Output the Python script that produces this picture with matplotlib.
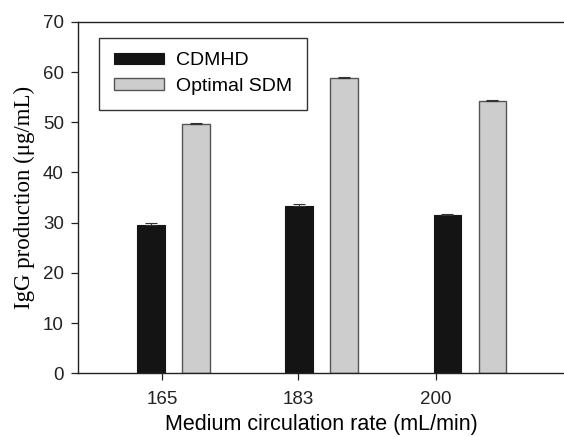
import numpy as np
import matplotlib.pyplot as plt

rates = ["165", "183", "200"]
cdmhd = [29.6, 33.4, 31.5]
cdmhd_err = [0.3, 0.3, 0.2]
sdm = [49.6, 58.8, 54.2]
sdm_err = [0.3, 0.3, 0.2]

# SigmaPlot puts the ticks a bit left of each group centre
tick_shift = [-0.081, -0.162, -0.23]

plt.rcParams['font.family'] = ['Liberation Sans', 'DejaVu Sans']

fig = plt.figure(figsize=(5.64, 4.37), dpi=100)
ax = fig.add_axes([0.138, 0.146, 0.862, 0.804])

x = np.arange(len(rates))
w = 0.189
off = 0.152

ax.bar(x - off, cdmhd, w, color="#141414", edgecolor="#141414", linewidth=0.8,
       label="CDMHD", zorder=2)
ax.bar(x + off, sdm, w, color="#cdcdcd", edgecolor="#555555", linewidth=1.0,
       label="Optimal SDM", zorder=2)
ax.errorbar(x - off, cdmhd, yerr=[np.zeros(3), cdmhd_err], fmt="none",
            ecolor="#333333", elinewidth=0.8, capsize=4, capthick=0.8, zorder=3)
ax.errorbar(x + off, sdm, yerr=[np.zeros(3), sdm_err], fmt="none",
            ecolor="#333333", elinewidth=0.8, capsize=4, capthick=0.8, zorder=3)

ax.set_xlim(-0.649, 2.635)
ax.set_ylim(0, 70)
ax.set_yticks(np.arange(0, 71, 10))
ax.set_xticks(x + np.array(tick_shift))
ax.set_xticklabels(rates)

ax.spines['right'].set_visible(False)
for s in ['left', 'bottom', 'top']:
    ax.spines[s].set_color("#222222")
    ax.spines[s].set_linewidth(1.0)
ax.tick_params(direction="out", length=5, width=0.9, colors="#222222",
               labelsize=13.5, pad=5)
ax.tick_params(axis="x", pad=8)

ax.set_xlabel("Medium circulation rate (mL/min)", fontsize=15.5, labelpad=4)
ax.set_ylabel("IgG production (μg/mL)", fontsize=16.5, family="Liberation Serif",
              labelpad=6)

leg = ax.legend(loc="upper left", bbox_to_anchor=(0.044, 0.955), fontsize=14,
                fancybox=False, framealpha=1, edgecolor="#333333",
                handlelength=2.6, handleheight=0.55, handletextpad=0.6,
                borderpad=0.75, labelspacing=0.45, borderaxespad=0)
leg.get_frame().set_linewidth(1.0)

fig.savefig("out.png", dpi=100)
